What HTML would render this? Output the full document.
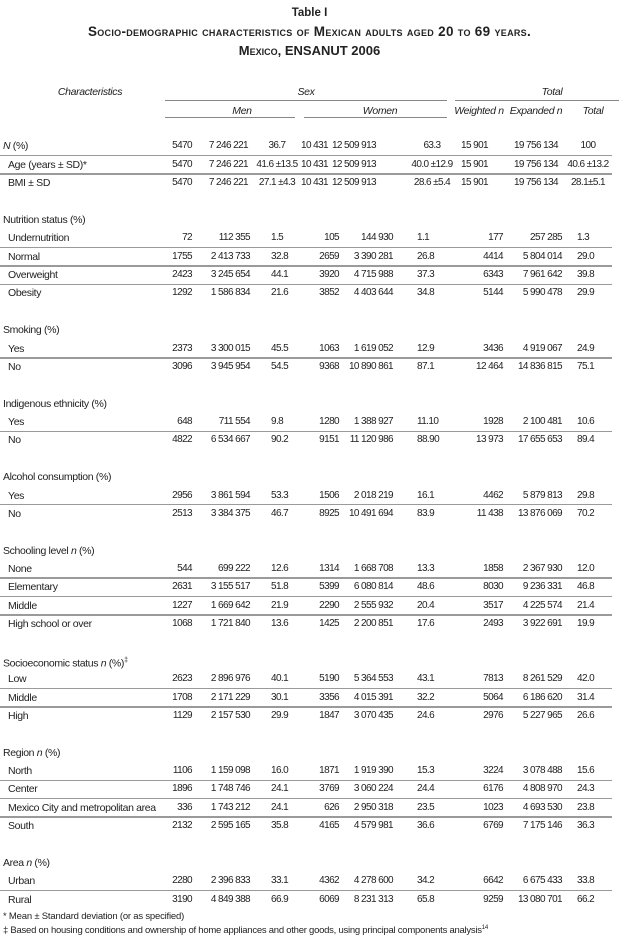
<!DOCTYPE html>
<html><head><meta charset="utf-8">
<style>
html,body{margin:0;padding:0;background:#fff;}
body{width:619px;height:952px;position:relative;overflow:hidden;font-family:"Liberation Sans",sans-serif;color:#222;}
.t{position:absolute;white-space:nowrap;font-size:10.5px;line-height:14px;letter-spacing:-0.35px;}
.n{font-size:10px;letter-spacing:-0.6px;}
.ln{position:absolute;height:1.5px;background:#9a9a9a;}
.hl{position:absolute;height:1px;background:#888;}
i{font-style:italic;}
</style></head>
<body>
<div class="t" style="left:0;width:619px;text-align:center;top:6px;font-size:11.5px;font-weight:bold;letter-spacing:0;">Table I</div>
<div class="t" style="left:0;width:619px;text-align:center;top:25px;font-size:13.5px;font-weight:bold;font-variant:small-caps;letter-spacing:0.3px;">Socio-demographic characteristics of Mexican adults aged 20 to 69 years.</div>
<div class="t" style="left:0;width:619px;text-align:center;top:44px;font-size:13px;font-weight:bold;font-variant:small-caps;letter-spacing:0;">Mexico, ENSANUT 2006</div>

<div class="t" style="left:40px;width:100px;text-align:center;top:85px;font-style:italic;">Characteristics</div>
<div class="t" style="left:256px;width:100px;text-align:center;top:85px;font-style:italic;">Sex</div>
<div class="t" style="left:502px;width:100px;text-align:center;top:85px;font-style:italic;">Total</div>
<div class="hl" style="left:165px;width:282px;top:100px;"></div>
<div class="hl" style="left:455px;width:164px;top:100px;"></div>
<div class="t" style="left:192px;width:100px;text-align:center;top:104px;font-style:italic;">Men</div>
<div class="t" style="left:330px;width:100px;text-align:center;top:104px;font-style:italic;">Women</div>
<div class="t" style="left:439px;width:80px;text-align:center;top:104px;font-style:italic;">Weighted n</div>
<div class="t" style="left:496px;width:80px;text-align:center;top:104px;font-style:italic;">Expanded n</div>
<div class="t" style="left:563px;width:60px;text-align:center;top:104px;font-style:italic;">Total</div>
<div class="hl" style="left:165px;width:130px;top:117px;"></div>
<div class="hl" style="left:304px;width:143px;top:117px;"></div>

<div class="t" style="left:3px;top:910px;font-size:9.5px;letter-spacing:-0.2px;">* Mean ± Standard deviation (or as specified)</div>
<div class="t" style="left:3px;top:921px;font-size:9.5px;letter-spacing:-0.25px;">‡ Based on housing conditions and ownership of home appliances and other goods, using principal components analysis<sup style="font-size:6px;">14</sup></div>

<script>
const topLabels = ['<i>N</i> (%)', 'Age (years ± SD)*', 'BMI ± SD'];
const topValues = [
 ['5470','7 246 221','36.7','10 431','12 509 913','63.3','15 901','19 756 134','100'],
 ['5470','7 246 221','41.6 ±13.5','10 431','12 509 913','40.0 ±12.9','15 901','19 756 134','40.6 ±13.2'],
 ['5470','7 246 221','27.1 ±4.3','10 431','12 509 913','28.6 ±5.4','15 901','19 756 134','28.1±5.1']
];
const sectionTitles = ['Nutrition status (%)','Smoking (%)','Indigenous ethnicity (%)','Alcohol consumption (%)','Schooling level <i>n</i> (%)','Socioeconomic status <i>n</i> (%)<sup style="font-size:7px">‡</sup>','Region <i>n</i> (%)','Area <i>n</i> (%)'];
const sectionRowLabels = [
 ['Undernutrition','Normal','Overweight','Obesity'],
 ['Yes','No'],
 ['Yes','No'],
 ['Yes','No'],
 ['None','Elementary','Middle','High school or over'],
 ['Low','Middle','High'],
 ['North','Center','Mexico City and metropolitan area','South'],
 ['Urban','Rural']
];
const sectionValues = [
 [['72','112 355','1.5','105','144 930','1.1','177','257 285','1.3'],
  ['1755','2 413 733','32.8','2659','3 390 281','26.8','4414','5 804 014','29.0'],
  ['2423','3 245 654','44.1','3920','4 715 988','37.3','6343','7 961 642','39.8'],
  ['1292','1 586 834','21.6','3852','4 403 644','34.8','5144','5 990 478','29.9']],
 [['2373','3 300 015','45.5','1063','1 619 052','12.9','3436','4 919 067','24.9'],
  ['3096','3 945 954','54.5','9368','10 890 861','87.1','12 464','14 836 815','75.1']],
 [['648','711 554','9.8','1280','1 388 927','11.10','1928','2 100 481','10.6'],
  ['4822','6 534 667','90.2','9151','11 120 986','88.90','13 973','17 655 653','89.4']],
 [['2956','3 861 594','53.3','1506','2 018 219','16.1','4462','5 879 813','29.8'],
  ['2513','3 384 375','46.7','8925','10 491 694','83.9','11 438','13 876 069','70.2']],
 [['544','699 222','12.6','1314','1 668 708','13.3','1858','2 367 930','12.0'],
  ['2631','3 155 517','51.8','5399','6 080 814','48.6','8030','9 236 331','46.8'],
  ['1227','1 669 642','21.9','2290','2 555 932','20.4','3517','4 225 574','21.4'],
  ['1068','1 721 840','13.6','1425','2 200 851','17.6','2493','3 922 691','19.9']],
 [['2623','2 896 976','40.1','5190','5 364 553','43.1','7813','8 261 529','42.0'],
  ['1708','2 171 229','30.1','3356','4 015 391','32.2','5064','6 186 620','31.4'],
  ['1129','2 157 530','29.9','1847','3 070 435','24.6','2976','5 227 965','26.6']],
 [['1106','1 159 098','16.0','1871','1 919 390','15.3','3224','3 078 488','15.6'],
  ['1896','1 748 746','24.1','3769','3 060 224','24.4','6176','4 808 970','24.3'],
  ['336','1 743 212','24.1','626','2 950 318','23.5','1023','4 693 530','23.8'],
  ['2132','2 595 165','35.8','4165','4 579 981','36.6','6769','7 175 146','36.3']],
 [['2280','2 396 833','33.1','4362','4 278 600','34.2','6642','6 675 433','33.8'],
  ['3190','4 849 388','66.9','6069','8 231 313','65.8','9259','13 080 701','66.2']]
];

// layout
const topYs = [146, 164.5, 183];
const topCols = [['r',192],['r',248],['c',277],['r',328],['r',376],['c',432],['r',488],['r',558],['c',588]];
const bodyCols = [['r',192],['r',250],['l',271],['r',339],['r',393],['l',417],['r',503],['r',562],['l',577]];
const STEP = 18.37, BODY_Y0 = 220;

function addText(html, x, yc, align, num){
  const d = document.createElement('div');
  d.className = num ? 't n' : 't';
  d.innerHTML = html;
  d.style.top = (yc - 7) + 'px';
  if (align === 'r') { d.style.left = (x - 120) + 'px'; d.style.width = '120px'; d.style.textAlign = 'right'; }
  else if (align === 'c') { d.style.left = (x - 60) + 'px'; d.style.width = '120px'; d.style.textAlign = 'center'; }
  else { d.style.left = x + 'px'; }
  document.body.appendChild(d);
  return d;
}
function addLine(y){
  const l = document.createElement('div');
  l.className = 'ln';
  l.style.left = '0px'; l.style.width = '612px'; l.style.top = (y - 0.75) + 'px';
  
  
  document.body.appendChild(l);
}

topLabels.forEach((lab, i) => {
  const y = topYs[i];
  const el = addText(lab, i === 0 ? 3 : 8, y, 'l', false);
  
  
  topValues[i].forEach((v, j) => {
    const c = addText(v, topCols[j][1], y, topCols[j][0], true);
    
    
  });
  if (i < topLabels.length - 1) addLine((y + topYs[i+1]) / 2);
});

let k = 0;
sectionTitles.forEach((title, s) => {
  const hy = BODY_Y0 + k * STEP;
  const h = addText(title, 3, hy, 'l', false);
  
  
  k += 1;
  sectionRowLabels[s].forEach((lab, r) => {
    const y = BODY_Y0 + k * STEP;
    const el = addText(lab, 8, y, 'l', false);
    
    
    sectionValues[s][r].forEach((v, j) => {
      const c = addText(v, bodyCols[j][1], y, bodyCols[j][0], true);
      
      
    });
    if (r < sectionRowLabels[s].length - 1) addLine(y + STEP / 2);
    k += 1;
  });
  k += 1;
});
</script>
</body></html>
